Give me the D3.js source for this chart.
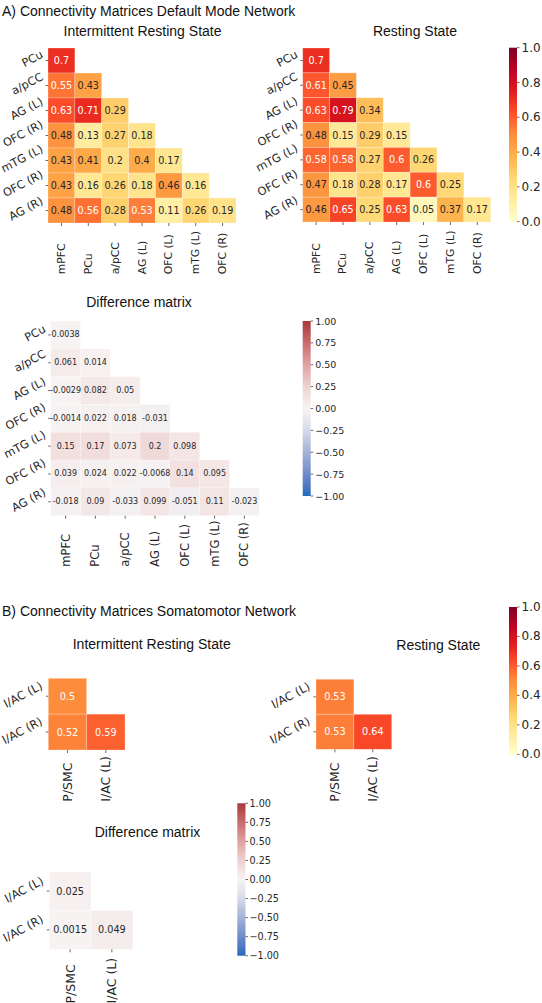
<!DOCTYPE html>
<html>
<head>
<meta charset="utf-8">
<script src="https://cdn.jsdelivr.net/npm/d3@7"></script>
<style>
  body { margin: 0; background: #fff; }
  svg { display: block; }
</style>
</head>
<body>
<div id="chart"></div>
<script>
// Connectivity matrices (DMN + SMN), lower triangles only

// --- data ---
var dmnRows = ["PCu", "a/pCC", "AG (L)", "OFC (R)", "mTG (L)", "OFC (R)", "AG (R)"];
var dmnCols = ["mPFC", "PCu", "a/pCC", "AG (L)", "OFC (L)", "mTG (L)", "OFC (R)"];

var dmnIRS = [
  [0.7],
  [0.55, 0.43],
  [0.63, 0.71, 0.29],
  [0.48, 0.13, 0.27, 0.18],
  [0.43, 0.41, 0.2, 0.4, 0.17],
  [0.43, 0.16, 0.26, 0.18, 0.46, 0.16],
  [0.48, 0.56, 0.28, 0.53, 0.11, 0.26, 0.19]
];
var dmnRS = [
  [0.7],
  [0.61, 0.45],
  [0.63, 0.79, 0.34],
  [0.48, 0.15, 0.29, 0.15],
  [0.58, 0.58, 0.27, 0.6, 0.26],
  [0.47, 0.18, 0.28, 0.17, 0.6, 0.25],
  [0.46, 0.65, 0.25, 0.63, 0.05, 0.37, 0.17]
];
var dmnDiff = [
  [0.0038],
  [0.061, 0.014],
  [-0.0029, 0.082, 0.05],
  [-0.0014, 0.022, 0.018, -0.031],
  [0.15, 0.17, 0.073, 0.2, 0.098],
  [0.039, 0.024, 0.022, -0.0068, 0.14, 0.095],
  [-0.018, 0.09, -0.033, 0.099, -0.051, 0.11, -0.023]
];

var smnRows = ["I/AC (L)", "I/AC (R)"];
var smnCols = ["P/SMC", "I/AC (L)"];
var smnIRS  = [[0.5], [0.52, 0.59]];
var smnRS   = [[0.53], [0.53, 0.64]];
var smnDiff = [[0.025], [0.0015, 0.049]];

var fcTicks   = [0, 0.2, 0.4, 0.6, 0.8, 1.0];
var diffTicks = [-1, -0.75, -0.5, -0.25, 0, 0.25, 0.5, 0.75, 1];

// --- page ---
var width = 542, height = 1003;
var svg = d3.select("#chart").append("svg")
    .attr("width", width)
    .attr("height", height);
var defs = svg.append("defs");

var tickFont = "'DejaVu Sans', sans-serif",
    titleFont = "'Liberation Sans', Arial, sans-serif",
    ink = "#262626";

// colour maps
var ylOrRd = d3.piecewise(d3.interpolateRgb,
    ["#ffffcc", "#ffeda0", "#fed976", "#feb24c", "#fd8d3c", "#fc4e2a", "#e31a1c", "#bd0026", "#800026"]);
var vlag = d3.piecewise(d3.interpolateLab,
    ["#2369bd", "#6e8cc9", "#a4b2d8", "#d6dbea", "#f7f3f3", "#eed3d2", "#dea3a2", "#c96b6b", "#a9373b"]);

var fcColor = d3.scaleSequential(ylOrRd).domain([0, 1]);
var diffColor = d3.scaleSequential(function(t) { return vlag(t); }).domain([-1, 1]);

function lum(c) {
  var rgb = d3.rgb(c);
  var f = function(v) { v = v / 255; return v <= 0.03928 ? v / 12.92 : Math.pow((v + 0.055) / 1.055, 2.4); };
  return 0.2126 * f(rgb.r) + 0.7152 * f(rgb.g) + 0.0722 * f(rgb.b);
}

function title(txt, x, y, anchor) {
  svg.append("text")
      .attr("x", x).attr("y", y)
      .attr("text-anchor", anchor || "middle")
      .style("font-family", titleFont)
      .style("font-size", "14px")
      .style("fill", "#111")
      .text(txt);
}

// heatmap with lower triangle cells
function heatmap(o) {
  var n = o.rows.length;
  var x = d3.scaleBand().domain(d3.range(n)).range(o.xr);
  var y = d3.scaleBand().domain(d3.range(n)).range(o.yr);
  var g = svg.append("g");

  var cells = [];
  o.values.forEach(function(row, i) {
    row.forEach(function(v, j) { cells.push({ i: i, j: j, v: v }); });
  });

  g.selectAll("rect.cell")
    .data(cells)
    .enter().append("rect")
      .attr("class", "cell")
      .attr("x", function(d) { return x(d.j); })
      .attr("y", function(d) { return y(d.i); })
      .attr("width", x.bandwidth())
      .attr("height", y.bandwidth())
      .attr("fill", function(d) { return o.color(d.v); })
      .style("stroke", "rgba(255,255,255,0.3)")
      .style("stroke-width", 0.8);

  g.selectAll("text.annot")
    .data(cells)
    .enter().append("text")
      .attr("class", "annot")
      .attr("x", function(d) { return x(d.j) + x.bandwidth() / 2; })
      .attr("y", function(d) { return y(d.i) + y.bandwidth() / 2; })
      .attr("text-anchor", "middle")
      .attr("dominant-baseline", "central")
      .style("font-family", tickFont)
      .style("font-size", o.annotSize + "px")
      .style("fill", function(d) { return lum(o.color(d.v)) > 0.408 ? ink : "#fff"; })
      .text(function(d) { return String(d.v); });

  // y ticks + rotated labels
  var x0 = o.xr[0], y1 = o.yr[1];
  var ang = 28 * Math.PI / 180;
  o.rows.forEach(function(lab, i) {
    var cy = y(i) + y.bandwidth() / 2;
    g.append("line")
        .attr("x1", x0 - 2.5).attr("x2", x0)
        .attr("y1", cy).attr("y2", cy)
        .style("stroke", "#444").style("stroke-width", 0.8);
    var t = g.append("text")
        .attr("text-anchor", "middle")
        .attr("dominant-baseline", "central")
        .style("font-family", tickFont)
        .style("font-size", o.ySize + "px")
        .style("fill", ink)
        .text(lab);
    var w = t.node().getComputedTextLength(),
        h = o.ySize * 1.05,
        bw = w * Math.cos(ang) + h * Math.sin(ang);
    var cx = x0 - o.yPad - bw / 2, cyy = cy - 1.5;
    t.attr("transform", "translate(" + cx + "," + cyy + ") rotate(-28)");
  });

  // x ticks + vertical labels
  o.cols.forEach(function(lab, j) {
    var cx = x(j) + x.bandwidth() / 2;
    g.append("line")
        .attr("x1", cx).attr("x2", cx)
        .attr("y1", y1).attr("y2", y1 + 3)
        .style("stroke", "#444").style("stroke-width", 0.8);
    g.append("text")
        .attr("text-anchor", "start")
        .attr("dominant-baseline", "central")
        .attr("transform", "translate(" + cx + "," + o.xLabelY + ") rotate(-90)")
        .style("font-family", tickFont)
        .style("font-size", o.xSize + "px")
        .style("fill", ink)
        .text(lab);
  });
}

var cbCount = 0;
function colorbar(o) {
  var id = "cb" + (cbCount++);
  var s = d3.scaleLinear().domain(o.domain).range([o.yr[1], o.yr[0]]);
  var grad = defs.append("linearGradient")
      .attr("id", id)
      .attr("x1", 0).attr("y1", 1).attr("x2", 0).attr("y2", 0);
  d3.range(0, 1.0001, 0.05).forEach(function(t) {
    grad.append("stop")
        .attr("offset", t)
        .attr("stop-color", o.color(o.domain[0] + t * (o.domain[1] - o.domain[0])));
  });
  svg.append("rect")
      .attr("x", o.xr[0]).attr("y", o.yr[0])
      .attr("width", o.xr[1] - o.xr[0])
      .attr("height", o.yr[1] - o.yr[0])
      .attr("fill", "url(#" + id + ")");

  var fmt = d3.format(o.fmt);
  var g = svg.append("g");
  o.ticks.forEach(function(v) {
    g.append("line")
        .attr("x1", o.xr[1]).attr("x2", o.xr[1] + 2.5)
        .attr("y1", s(v)).attr("y2", s(v))
        .style("stroke", "#444").style("stroke-width", 0.8);
    g.append("text")
        .attr("x", o.xr[1] + o.pad)
        .attr("y", s(v))
        .attr("dominant-baseline", "central")
        .style("font-family", tickFont)
        .style("font-size", o.size + "px")
        .style("fill", ink)
        .text(fmt(v));
  });
}

// --- A) Default Mode Network ---
title("A) Connectivity Matrices Default Mode Network", 2, 15.5, "start");
title("Intermittent Resting State", 142.5, 35.5);
title("Resting State", 415, 35.5);
title("Difference matrix", 139, 307);

heatmap({ rows: dmnRows, cols: dmnCols, values: dmnIRS, color: fcColor,
  xr: [48, 236], yr: [48, 223], annotSize: 9.6, ySize: 11.3, xSize: 10.8, yPad: 3, xLabelY: 274.3 });
heatmap({ rows: dmnRows, cols: dmnCols, values: dmnRS, color: fcColor,
  xr: [302.7, 490.7], yr: [48, 222], annotSize: 9.6, ySize: 11.3, xSize: 10.8, yPad: 3, xLabelY: 274 });
heatmap({ rows: dmnRows, cols: dmnCols, values: dmnDiff, color: diffColor,
  xr: [50.7, 259.3], yr: [321, 515.7], annotSize: 8, ySize: 11.3, xSize: 11.5, yPad: 3, xLabelY: 566.7 });

colorbar({ domain: [0, 1], color: fcColor, ticks: fcTicks, fmt: ".1f",
  xr: [509, 517], yr: [47.7, 221.7], size: 12, pad: 4.5 });
colorbar({ domain: [-1, 1], color: diffColor, ticks: diffTicks, fmt: ".2f",
  xr: [302.7, 310.7], yr: [321, 496], size: 9.5, pad: 4.5 });

// --- B) Somatomotor Network ---
title("B) Connectivity Matrices Somatomotor Network", 2, 615.5, "start");
title("Intermittent Resting State", 151.7, 648.5);
title("Resting State", 438.3, 649.5);
title("Difference matrix", 147.5, 837);

heatmap({ rows: smnRows, cols: smnCols, values: smnIRS, color: fcColor,
  xr: [48.3, 125], yr: [678.3, 750], annotSize: 9.7, ySize: 11.5, xSize: 12.5, yPad: 4, xLabelY: 801.7 });
heatmap({ rows: smnRows, cols: smnCols, values: smnRS, color: fcColor,
  xr: [316, 391.7], yr: [679.3, 749.3], annotSize: 9.7, ySize: 11.5, xSize: 12.5, yPad: 4, xLabelY: 801.7 });
heatmap({ rows: smnRows, cols: smnCols, values: smnDiff, color: diffColor,
  xr: [49.3, 132.7], yr: [871.7, 949.3], annotSize: 9.7, ySize: 11.5, xSize: 12.5, yPad: 4, xLabelY: 1003.5 });

colorbar({ domain: [0, 1], color: fcColor, ticks: fcTicks, fmt: ".1f",
  xr: [509, 517], yr: [607, 754.3], size: 12, pad: 4.5 });
colorbar({ domain: [-1, 1], color: diffColor, ticks: diffTicks, fmt: ".2f",
  xr: [237.3, 245.5], yr: [803.3, 955.7], size: 9.6, pad: 4 });
</script>
</body>
</html>
